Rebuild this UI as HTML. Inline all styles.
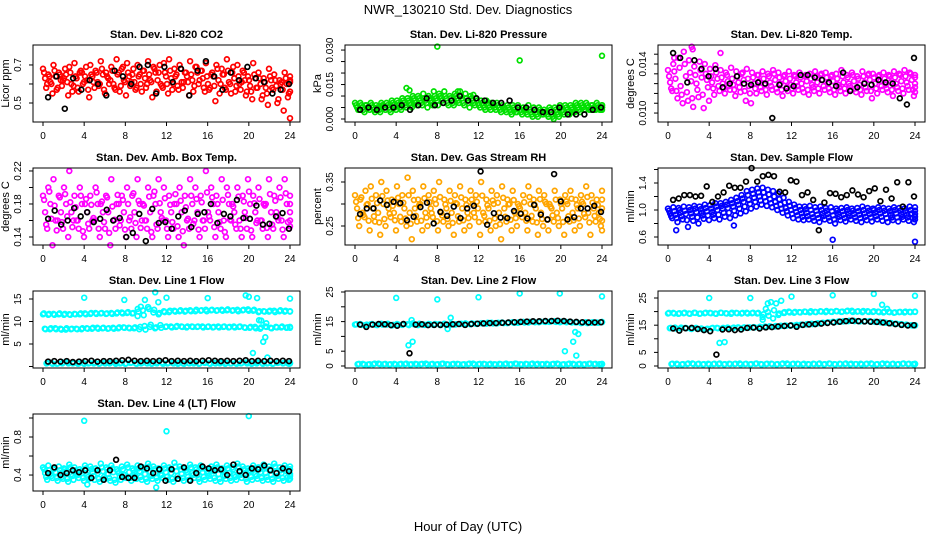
<!DOCTYPE html>
<html><head><meta charset="utf-8"><title>NWR_130210 Std. Dev. Diagnostics</title>
<style>
html,body{margin:0;padding:0;background:#fff;}
svg{display:block;font-family:"Liberation Sans",sans-serif;}
</style></head>
<body>
<svg id="chart" width="936" height="540" viewBox="0 0 936 540" xmlns="http://www.w3.org/2000/svg">
<rect width="936" height="540" fill="#fff"/>
<text x="468" y="14" font-size="13" text-anchor="middle">NWR_130210  Std. Dev. Diagnostics</text>
<text x="468" y="531" font-size="13" text-anchor="middle">Hour of Day (UTC)</text>
</svg>
<script>
const xTicks=[0,4,8,12,16,20,24];
const co2A=[0.68,0.65,0.70,0.66,0.63,0.69,0.71,0.66,0.64,0.70,0.67,0.72,0.66,0.69,0.73,0.68,0.71,0.65,0.70,0.67,0.72,0.69,0.66,0.71,0.73,0.68,0.70,0.66,0.72,0.69,0.67,0.71,0.65,0.70,0.68,0.73,0.66,0.70,0.67,0.64,0.71,0.66,0.63,0.68,0.65,0.62,0.66,0.64];
const co2B=[0.60,0.55,0.58,0.62,0.54,0.59,0.56,0.61,0.53,0.58,0.60,0.55,0.62,0.57,0.59,0.54,0.61,0.58,0.56,0.60,0.53,0.62,0.58,0.55,0.60,0.57,0.61,0.54,0.59,0.62,0.56,0.58,0.51,0.60,0.57,0.55,0.59,0.61,0.56,0.52,0.58,0.54,0.49,0.57,0.52,0.46,0.55,0.42];
const co2C=[0.63,0.61,0.64,0.62,0.65,0.60,0.63,0.66,0.62,0.64,0.61,0.65,0.63,0.60,0.66,0.62,0.64,0.61,0.65,0.63,0.62,0.66,0.60,0.64,0.63,0.65,0.61,0.64,0.62,0.66,0.63,0.60,0.64,0.62,0.65,0.61,0.63,0.60,0.62,0.59,0.63,0.60,0.58,0.62,0.59,0.61,0.60,0.62];
const co2D=[0.66,0.64,0.67,0.65,0.68,0.66,0.64,0.67,0.69,0.65,0.66,0.68,0.64,0.67,0.65,0.69,0.66,0.68,0.64,0.67,0.65,0.68,0.70,0.66,0.67,0.64,0.68,0.66,0.65,0.69,0.67,0.64,0.66,0.68,0.65,0.67,0.69,0.64,0.66,0.62,0.65,0.63,0.61,0.64,0.62,0.60,0.63,0.61];
const co2E=[0.58,0.60,0.57,0.59,0.61,0.56,0.58,0.60,0.57,0.61,0.59,0.57,0.60,0.58,0.56,0.61,0.59,0.57,0.60,0.58,0.61,0.56,0.59,0.60,0.57,0.59,0.58,0.61,0.56,0.60,0.58,0.57,0.59,0.55,0.58,0.60,0.56,0.57,0.54,0.56,0.58,0.52,0.55,0.58,0.50,0.57,0.53,0.56];
const co2K=[0.53,0.64,0.47,0.63,0.57,0.62,0.60,0.54,0.67,0.64,0.60,0.69,0.70,0.55,0.69,0.61,0.68,0.54,0.67,0.72,0.64,0.57,0.66,0.62,0.69,0.63,0.61,0.55,0.57,0.60];
const presA=[0.007,0.007,0.006,0.007,0.006,0.007,0.007,0.008,0.008,0.009,0.009,0.010,0.010,0.011,0.010,0.012,0.011,0.012,0.010,0.011,0.012,0.011,0.010,0.009,0.008,0.008,0.007,0.007,0.006,0.006,0.006,0.006,0.005,0.006,0.005,0.005,0.004,0.005,0.005,0.006,0.006,0.006,0.007,0.007,0.007,0.006,0.007,0.006];
const presB=[0.004,0.003,0.004,0.003,0.003,0.004,0.003,0.004,0.004,0.005,0.005,0.006,0.006,0.005,0.006,0.006,0.007,0.006,0.006,0.007,0.006,0.005,0.006,0.005,0.004,0.004,0.004,0.003,0.003,0.002,0.003,0.002,0.002,0.001,0.001,0.002,0.001,0.000,0.001,0.002,0.002,0.003,0.003,0.004,0.004,0.004,0.004,0.005];
const presC=[0.005,0.005,0.005,0.005,0.005,0.006,0.005,0.006,0.006,0.007,0.007,0.008,0.008,0.008,0.008,0.009,0.009,0.009,0.008,0.009,0.009,0.008,0.008,0.007,0.006,0.006,0.006,0.005,0.005,0.004,0.004,0.004,0.004,0.003,0.003,0.003,0.003,0.002,0.003,0.004,0.004,0.004,0.005,0.005,0.005,0.005,0.005,0.005];
const presD=[0.006,0.006,0.006,0.006,0.005,0.006,0.006,0.007,0.007,0.008,0.008,0.009,0.009,0.009,0.009,0.010,0.010,0.010,0.009,0.010,0.010,0.009,0.009,0.008,0.007,0.007,0.006,0.006,0.005,0.005,0.005,0.005,0.004,0.004,0.004,0.004,0.003,0.004,0.004,0.005,0.005,0.005,0.006,0.006,0.006,0.006,0.006,0.006];
const presE=[0.004,0.004,0.005,0.004,0.004,0.005,0.004,0.005,0.005,0.006,0.006,0.007,0.007,0.007,0.007,0.008,0.008,0.007,0.007,0.008,0.007,0.007,0.007,0.006,0.005,0.005,0.005,0.004,0.004,0.003,0.003,0.003,0.003,0.002,0.002,0.002,0.002,0.001,0.002,0.003,0.003,0.003,0.004,0.004,0.004,0.004,0.004,0.004];
const presK=[0.004,0.005,0.004,0.005,0.005,0.006,0.004,0.006,0.009,0.006,0.007,0.008,0.010,0.008,0.009,0.008,0.007,0.007,0.008,0.005,0.005,0.004,0.003,0.003,0.005,0.002,0.002,0.002,0.004,0.005];
const presOutT=[8,16,24,5,5.3,10,11.5];
const presOutV=[0.0315,0.0255,0.0275,0.0135,0.0125,0.012,0.0105];
const tempA=[0.0135,0.0140,0.0145,0.0150,0.0143,0.0138,0.0142,0.0140,0.0136,0.0139,0.0135,0.0133,0.0137,0.0134,0.0132,0.0136,0.0133,0.0131,0.0134,0.0132,0.0135,0.0133,0.0130,0.0134,0.0131,0.0133,0.0130,0.0132,0.0134,0.0131,0.0133,0.0130,0.0132,0.0135,0.0131,0.0133,0.0130,0.0134,0.0131,0.0132,0.0130,0.0133,0.0131,0.0134,0.0132,0.0135,0.0133,0.0131];
const tempB=[0.0118,0.0112,0.0108,0.0110,0.0105,0.0113,0.0104,0.0110,0.0115,0.0118,0.0116,0.0119,0.0114,0.0117,0.0110,0.0108,0.0116,0.0118,0.0115,0.0119,0.0117,0.0114,0.0118,0.0116,0.0119,0.0117,0.0115,0.0118,0.0116,0.0119,0.0117,0.0115,0.0118,0.0116,0.0119,0.0117,0.0115,0.0118,0.0112,0.0116,0.0119,0.0117,0.0114,0.0118,0.0116,0.0119,0.0114,0.0117];
const tempC=[0.0125,0.0128,0.0122,0.0130,0.0126,0.0124,0.0129,0.0127,0.0125,0.0128,0.0124,0.0126,0.0123,0.0125,0.0127,0.0122,0.0124,0.0126,0.0123,0.0125,0.0127,0.0124,0.0126,0.0123,0.0125,0.0124,0.0126,0.0123,0.0125,0.0127,0.0124,0.0126,0.0123,0.0125,0.0124,0.0126,0.0123,0.0125,0.0127,0.0124,0.0126,0.0123,0.0125,0.0124,0.0126,0.0125,0.0127,0.0124];
const tempD=[0.0130,0.0134,0.0137,0.0140,0.0133,0.0131,0.0135,0.0132,0.0130,0.0133,0.0129,0.0131,0.0128,0.0130,0.0133,0.0128,0.0129,0.0131,0.0128,0.0130,0.0132,0.0129,0.0131,0.0128,0.0130,0.0129,0.0131,0.0128,0.0130,0.0132,0.0129,0.0131,0.0128,0.0130,0.0129,0.0131,0.0128,0.0130,0.0132,0.0129,0.0131,0.0128,0.0130,0.0129,0.0131,0.0130,0.0132,0.0129];
const tempE=[0.0120,0.0118,0.0115,0.0117,0.0112,0.0119,0.0115,0.0121,0.0120,0.0122,0.0120,0.0122,0.0119,0.0121,0.0118,0.0116,0.0120,0.0121,0.0119,0.0122,0.0120,0.0119,0.0121,0.0120,0.0122,0.0120,0.0119,0.0121,0.0120,0.0122,0.0120,0.0119,0.0121,0.0120,0.0122,0.0120,0.0119,0.0121,0.0118,0.0120,0.0122,0.0120,0.0119,0.0121,0.0120,0.0122,0.0119,0.0121];
const tempK=[0.0149,0.0145,0.0125,0.0143,0.0136,0.0130,0.0136,0.0121,0.0124,0.0130,0.0124,0.0123,0.0125,0.0124,0.0096,0.0123,0.0120,0.0122,0.0131,0.0131,0.0129,0.0127,0.0125,0.0122,0.0133,0.0118,0.0121,0.0124,0.0123,0.0127,0.0125,0.0124,0.0112,0.0107,0.0145];
const tempOutT=[2.3,2.4,5.1,0.6];
const tempOutV=[0.0154,0.0152,0.0149,0.0145];
const ambA=[0.19,0.20,0.21,0.19,0.20,0.22,0.19,0.20,0.18,0.19,0.20,0.18,0.19,0.21,0.18,0.19,0.20,0.19,0.21,0.18,0.20,0.19,0.21,0.20,0.19,0.18,0.20,0.19,0.21,0.20,0.19,0.22,0.20,0.19,0.21,0.20,0.18,0.20,0.19,0.21,0.19,0.20,0.18,0.21,0.19,0.20,0.21,0.19];
const ambB=[0.15,0.13,0.16,0.15,0.14,0.16,0.15,0.14,0.15,0.16,0.14,0.15,0.13,0.15,0.16,0.14,0.15,0.14,0.16,0.15,0.14,0.15,0.16,0.14,0.15,0.14,0.13,0.15,0.16,0.14,0.15,0.16,0.14,0.15,0.14,0.16,0.15,0.14,0.15,0.14,0.16,0.15,0.14,0.15,0.16,0.14,0.15,0.16];
const ambC=[0.17,0.18,0.16,0.17,0.18,0.17,0.16,0.18,0.17,0.16,0.18,0.17,0.17,0.16,0.18,0.17,0.16,0.17,0.18,0.16,0.17,0.18,0.17,0.16,0.17,0.18,0.17,0.16,0.18,0.17,0.16,0.17,0.18,0.17,0.16,0.18,0.17,0.16,0.17,0.18,0.17,0.16,0.18,0.17,0.17,0.16,0.18,0.17];
const ambD=[0.185,0.195,0.178,0.188,0.192,0.182,0.176,0.190,0.186,0.179,0.194,0.183,0.188,0.177,0.191,0.185,0.180,0.193,0.184,0.178,0.189,0.195,0.181,0.187,0.179,0.192,0.184,0.176,0.190,0.186,0.182,0.194,0.188,0.180,0.185,0.191,0.177,0.189,0.183,0.195,0.181,0.186,0.178,0.192,0.184,0.188,0.193,0.180];
const ambE=[0.155,0.162,0.148,0.158,0.165,0.152,0.160,0.147,0.156,0.163,0.150,0.158,0.145,0.161,0.154,0.149,0.164,0.157,0.151,0.160,0.146,0.155,0.163,0.150,0.158,0.153,0.147,0.162,0.156,0.149,0.160,0.165,0.152,0.158,0.146,0.161,0.155,0.150,0.163,0.148,0.157,0.160,0.151,0.155,0.164,0.149,0.158,0.153];
const ambK=[0.162,0.172,0.155,0.160,0.175,0.165,0.170,0.158,0.162,0.173,0.160,0.163,0.140,0.145,0.168,0.135,0.174,0.157,0.158,0.150,0.165,0.172,0.152,0.168,0.170,0.180,0.157,0.168,0.165,0.185,0.163,0.162,0.178,0.155,0.156,0.165,0.169,0.150];
const rhA=[0.32,0.31,0.33,0.34,0.32,0.35,0.33,0.31,0.34,0.32,0.36,0.33,0.31,0.34,0.32,0.33,0.35,0.31,0.33,0.32,0.34,0.31,0.33,0.32,0.35,0.31,0.33,0.32,0.34,0.31,0.33,0.30,0.32,0.34,0.31,0.33,0.32,0.30,0.33,0.31,0.32,0.33,0.31,0.32,0.34,0.32,0.31,0.33];
const rhB=[0.25,0.27,0.24,0.26,0.23,0.25,0.27,0.24,0.26,0.25,0.22,0.26,0.24,0.25,0.27,0.24,0.26,0.25,0.23,0.26,0.24,0.25,0.27,0.23,0.26,0.24,0.25,0.22,0.26,0.24,0.25,0.27,0.24,0.26,0.23,0.25,0.24,0.26,0.25,0.23,0.26,0.24,0.25,0.27,0.23,0.26,0.25,0.24];
const rhC=[0.29,0.28,0.30,0.29,0.28,0.30,0.29,0.28,0.30,0.29,0.28,0.29,0.30,0.28,0.29,0.30,0.28,0.29,0.28,0.30,0.29,0.28,0.30,0.29,0.28,0.29,0.30,0.28,0.29,0.30,0.28,0.29,0.28,0.30,0.29,0.28,0.30,0.29,0.28,0.29,0.30,0.28,0.29,0.30,0.28,0.29,0.28,0.29];
const rhD=[0.305,0.315,0.298,0.312,0.302,0.318,0.308,0.296,0.314,0.303,0.320,0.309,0.297,0.313,0.304,0.311,0.316,0.299,0.307,0.302,0.315,0.298,0.310,0.305,0.319,0.297,0.308,0.303,0.314,0.299,0.309,0.295,0.304,0.316,0.298,0.311,0.305,0.294,0.310,0.300,0.306,0.312,0.298,0.305,0.316,0.303,0.298,0.310];
const rhE=[0.268,0.275,0.262,0.272,0.258,0.266,0.278,0.263,0.271,0.267,0.255,0.273,0.262,0.269,0.279,0.261,0.274,0.266,0.257,0.272,0.263,0.268,0.280,0.259,0.273,0.262,0.267,0.254,0.271,0.264,0.268,0.278,0.262,0.273,0.258,0.266,0.264,0.274,0.268,0.259,0.272,0.263,0.267,0.278,0.258,0.273,0.266,0.262];
const rhK=[0.277,0.290,0.290,0.308,0.298,0.305,0.302,0.263,0.271,0.293,0.303,0.256,0.282,0.273,0.294,0.268,0.290,0.296,0.374,0.253,0.279,0.269,0.268,0.284,0.278,0.267,0.298,0.276,0.265,0.368,0.306,0.265,0.270,0.290,0.290,0.296,0.282];
const flowA=[1.02,1.04,1.03,1.05,1.04,1.06,1.05,1.08,1.07,1.10,1.10,1.12,1.15,1.18,1.22,1.28,1.30,1.32,1.33,1.30,1.28,1.24,1.18,1.12,1.08,1.05,1.05,1.06,1.04,1.05,1.03,1.04,1.02,1.03,1.04,1.02,1.03,1.05,1.03,1.02,1.04,1.03,1.02,1.04,1.03,1.02,1.05,1.04];
const flowB=[0.88,0.82,0.86,0.75,0.84,0.80,0.87,0.85,0.88,0.86,0.90,0.88,0.92,0.95,0.98,1.02,1.05,1.08,1.06,1.04,1.00,0.96,0.92,0.88,0.86,0.85,0.86,0.84,0.82,0.86,0.84,0.80,0.85,0.83,0.86,0.84,0.82,0.85,0.83,0.86,0.84,0.82,0.85,0.83,0.86,0.84,0.82,0.86];
const flowC=[0.95,0.93,0.96,0.94,0.95,0.97,0.96,0.98,0.97,1.00,1.02,1.03,1.05,1.08,1.12,1.15,1.18,1.20,1.19,1.16,1.12,1.08,1.03,1.00,0.97,0.95,0.96,0.94,0.93,0.95,0.94,0.92,0.94,0.93,0.95,0.94,0.93,0.95,0.94,0.96,0.95,0.94,0.93,0.95,0.94,0.93,0.95,0.94];
const flowD=[0.99,0.98,1.00,0.99,1.00,1.02,1.01,1.03,1.02,1.05,1.06,1.08,1.10,1.13,1.17,1.22,1.24,1.26,1.26,1.23,1.20,1.16,1.11,1.06,1.03,1.00,1.01,1.00,0.99,1.00,0.99,0.98,0.99,0.98,1.00,0.99,0.98,1.00,0.99,1.00,1.00,0.99,0.98,1.00,0.99,0.98,1.00,0.99];
const flowE=[0.91,0.88,0.91,0.85,0.90,0.89,0.92,0.92,0.93,0.93,0.96,0.96,0.99,1.02,1.05,1.09,1.12,1.14,1.13,1.10,1.06,1.02,0.98,0.94,0.92,0.90,0.91,0.89,0.88,0.91,0.89,0.86,0.90,0.88,0.91,0.89,0.88,0.90,0.89,0.91,0.90,0.88,0.89,0.89,0.90,0.89,0.88,0.90];
const flowK=[1.15,1.17,1.22,1.22,1.20,1.21,1.35,1.12,1.20,1.26,1.36,1.33,1.33,1.42,1.62,1.42,1.50,1.52,1.50,1.27,1.26,1.44,1.42,1.22,1.26,1.15,0.70,1.11,1.25,1.24,1.19,1.22,1.29,1.23,1.19,1.28,1.32,1.13,1.30,1.17,1.41,1.05,1.41,1.20];
const flowOutT=[16,24,0.8,6.4];
const flowOutV=[0.56,0.53,0.70,0.77];
const l1A=[11.6,11.5,11.7,11.6,11.5,11.6,11.7,11.6,11.8,11.7,11.9,11.8,11.7,11.9,11.8,12.0,11.9,11.8,11.2,12.5,13.2,12.0,11.6,12.3,12.1,12.4,12.3,12.2,12.5,12.3,12.4,12.6,12.5,12.4,12.6,12.5,12.4,12.6,12.5,12.7,12.4,12.1,12.3,12.2,12.4,12.3,12.2,12.3];
const l1A2=[11.8,11.7,11.5,11.8,11.7,11.5,11.6,11.8,11.6,11.9,11.7,11.9,11.8,11.7,12.0,11.8,12.1,11.9,12.2,11.4,12.8,12.6,11.9,12.1,12.4,12.2,12.5,12.4,12.3,12.6,12.5,12.3,12.6,12.5,12.4,12.7,12.5,12.3,12.6,12.4,12.6,12.3,12.2,12.4,12.1,12.5,12.4,12.2];
const l1B=[8.4,8.3,8.5,8.4,8.2,8.3,8.4,8.3,8.5,8.4,8.6,8.5,8.4,8.6,8.5,8.7,8.6,8.5,8.3,9.0,8.8,8.5,9.2,8.8,8.9,8.8,8.9,8.7,8.9,8.8,8.9,8.8,8.7,8.9,8.8,8.7,8.9,8.8,8.7,8.6,8.8,8.4,8.9,8.6,8.8,8.7,8.6,8.8];
const l1B2=[8.3,8.5,8.3,8.2,8.5,8.4,8.3,8.5,8.4,8.6,8.4,8.6,8.5,8.4,8.7,8.6,8.5,8.7,8.8,8.2,9.3,8.7,8.6,8.9,8.7,9.0,8.8,8.9,8.8,8.9,8.7,8.9,8.8,8.7,8.9,8.8,8.7,8.9,8.6,8.8,8.5,8.7,8.8,8.5,8.7,8.9,8.7,8.6];
const l1C=[0.7,0.8,0.6,0.7,0.9,0.7,0.6,0.8,0.7,0.7,0.6,0.8,0.7,0.9,0.7,0.6,0.8,0.7,0.7,0.8,0.6,0.7,0.9,0.7,0.8,0.6,0.7,0.8,0.7,0.6,0.9,0.7,0.8,0.7,0.6,0.7,0.8,0.7,0.9,0.6,0.7,0.8,0.7,0.6,0.8,0.7,0.7,0.8];
const l1C2=[0.8,0.6,0.7,0.9,0.7,0.8,0.7,0.6,0.8,0.9,0.7,0.7,0.8,0.6,0.8,0.7,0.9,0.6,0.8,0.7,0.7,0.9,0.6,0.8,0.7,0.8,0.6,0.7,0.9,0.7,0.8,0.6,0.7,0.9,0.8,0.7,0.6,0.8,0.7,0.7,0.9,0.6,0.8,0.7,0.9,0.8,0.6,0.7];
const l1K=[1.1,1.2,1.1,1.2,1.0,1.1,1.2,1.3,1.1,1.2,1.2,1.3,1.4,1.5,1.3,1.2,1.3,1.2,1.3,1.4,1.2,1.3,1.2,1.3,1.2,1.3,1.4,1.3,1.2,1.3,1.2,1.3,1.4,1.2,1.3,1.2,1.3,1.2,1.3,1.2];
const l1OutT=[4,7.9,9.9,10.9,11.2,12,16,19.7,20,20.4,20.8,21,21.2,21.4,21.6,21.7,21.8,24,9.5,9.2];
const l1OutV=[15.3,14.8,14.8,16.5,14.3,15.3,15.2,15.8,15.5,3.0,15.2,10.3,10.2,5.5,6.5,9.6,2.0,15.1,13.3,12.8];
const l2A=[14.0,14.2,13.8,14.1,13.9,14.3,14.0,13.7,14.2,13.9,14.1,14.4,13.8,14.0,14.2,13.9,14.1,14.3,13.8,14.0,14.2,14.4,14.1,14.3,14.5,14.3,14.6,14.4,14.7,14.5,14.8,14.6,14.9,14.7,15.0,14.8,15.0,14.9,15.1,14.8,15.0,14.9,14.7,14.5,14.8,14.6,14.7,14.9];
const l2A2=[14.1,13.9,14.0,14.2,13.8,14.0,14.3,13.9,14.0,14.2,13.8,14.1,14.3,13.9,14.1,14.2,13.8,14.0,14.2,14.1,14.3,14.2,14.4,14.2,14.4,14.6,14.4,14.6,14.5,14.7,14.6,14.8,14.7,14.9,14.8,15.0,14.9,15.1,14.9,15.0,14.8,14.7,14.8,14.6,14.5,14.8,14.6,14.8];
const l2C=[0.6,0.7,0.5,0.6,0.8,0.6,0.5,0.7,0.6,0.6,0.5,0.7,0.6,0.8,0.6,0.5,0.7,0.6,0.6,0.7,0.5,0.6,0.8,0.6,0.7,0.5,0.6,0.7,0.6,0.5,0.8,0.6,0.7,0.6,0.5,0.6,0.7,0.6,0.8,0.5,0.6,0.7,0.6,0.5,0.7,0.6,0.6,0.7];
const l2C2=[0.7,0.5,0.6,0.8,0.6,0.7,0.6,0.5,0.7,0.8,0.6,0.6,0.7,0.5,0.7,0.6,0.8,0.5,0.7,0.6,0.6,0.8,0.5,0.7,0.6,0.7,0.5,0.6,0.8,0.6,0.7,0.5,0.6,0.8,0.7,0.6,0.5,0.7,0.6,0.6,0.8,0.5,0.7,0.6,0.8,0.7,0.5,0.6];
const l2K=[14.0,13.2,14.0,14.2,14.1,13.8,13.6,14.2,4.3,14.0,14.1,13.8,13.9,13.9,14.0,14.1,14.2,13.9,14.2,14.3,14.4,14.5,14.5,14.6,14.7,14.8,14.9,15.0,15.1,15.1,15.2,15.2,15.3,15.2,15.0,14.9,14.8,14.7,14.7,14.8];
const l2OutT=[4,5.2,5.5,5.6,8,9,9.3,12,16,19.9,20.4,21.2,21.4,21.5,21.7,24];
const l2OutV=[23,7,15.5,8.2,22.5,12.5,16.3,23.2,24.5,24.5,5,8.2,11.5,3.5,10.8,23.5];
const l3A=[19.3,19.5,19.2,19.4,19.3,19.6,19.2,19.4,19.5,19.3,19.6,19.4,19.2,19.5,19.3,19.6,19.4,19.3,18.0,19.8,17.5,18.8,19.5,20.0,19.6,19.8,20.0,19.7,19.9,20.1,19.8,20.0,20.2,19.9,20.1,20.3,20.0,19.8,20.1,19.9,20.0,19.7,19.9,19.6,19.8,19.7,19.9,20.0];
const l3A2=[19.5,19.3,19.4,19.6,19.2,19.5,19.3,19.6,19.4,19.2,19.5,19.3,19.6,19.4,19.5,19.3,19.6,19.5,19.0,18.5,20.5,19.3,19.8,19.7,19.9,19.7,19.9,20.1,19.8,20.0,20.2,19.9,20.1,20.0,20.3,19.9,20.1,20.2,19.9,20.1,19.8,20.0,19.8,19.7,19.9,20.0,19.8,19.9];
const l3B=[13.9,14.1,13.8,14.0,13.7,14.0,13.8,13.5,13.9,14.0,13.8,14.1,13.9,14.2,14.0,14.1,14.3,14.2,14.4,14.6,14.5,14.7,14.9,14.8,15.0,15.2,15.3,15.5,15.6,15.8,16.0,16.2,16.3,16.4,16.5,16.6,16.5,16.4,16.5,16.3,16.2,16.0,15.8,15.6,15.4,15.2,15.0,14.9];
const l3B2=[14.0,13.8,14.1,13.9,13.6,13.8,13.6,13.7,14.0,13.9,14.0,13.9,14.1,14.0,14.2,14.2,14.2,14.4,14.5,14.5,14.7,14.8,14.8,15.0,15.1,15.1,15.4,15.4,15.7,15.9,16.1,16.2,16.4,16.5,16.6,16.5,16.4,16.5,16.3,16.2,16.1,15.9,15.7,15.5,15.3,15.1,14.9,15.0];
const l3C=[0.7,0.8,0.6,0.7,0.9,0.7,0.6,0.8,0.7,0.7,0.6,0.8,0.7,0.9,0.7,0.6,0.8,0.7,0.7,0.8,0.6,0.7,0.9,0.7,0.8,0.6,0.7,0.8,0.7,0.6,0.9,0.7,0.8,0.7,0.6,0.7,0.8,0.7,0.9,0.6,0.7,0.8,0.7,0.6,0.8,0.7,0.7,0.8];
const l3C2=[0.8,0.6,0.7,0.9,0.7,0.8,0.7,0.6,0.8,0.9,0.7,0.7,0.8,0.6,0.8,0.7,0.9,0.6,0.8,0.7,0.7,0.9,0.6,0.8,0.7,0.8,0.6,0.7,0.9,0.7,0.8,0.6,0.7,0.9,0.8,0.7,0.6,0.8,0.7,0.7,0.9,0.6,0.8,0.7,0.9,0.8,0.6,0.7];
const l3K=[13.8,13.0,13.9,14.0,13.6,13.2,12.8,4.2,13.4,13.5,13.2,13.4,14.0,14.1,13.8,14.2,14.3,14.5,14.7,14.9,14.4,15.1,15.3,15.4,15.6,15.8,16.0,16.3,16.5,16.6,16.5,16.4,16.3,16.2,16.0,15.7,15.4,15.1,14.9,15.0];
const l3OutT=[4,5,5.5,8,9.2,9.5,9.7,10,10.5,11,11.3,12,16,20,20.8,21.3,24];
const l3OutV=[25,8.5,8.8,25,17,21,23,23.5,23,24,19.5,25.5,26,26.5,22.5,21,25.8];
const l4A=[0.48,0.50,0.46,0.49,0.47,0.51,0.48,0.46,0.50,0.49,0.47,0.52,0.48,0.50,0.46,0.49,0.51,0.47,0.50,0.48,0.52,0.49,0.47,0.50,0.48,0.53,0.49,0.47,0.51,0.48,0.50,0.46,0.49,0.51,0.47,0.50,0.48,0.52,0.49,0.47,0.50,0.48,0.51,0.49,0.52,0.48,0.50,0.49];
const l4B=[0.35,0.37,0.34,0.36,0.33,0.35,0.37,0.34,0.36,0.35,0.33,0.36,0.34,0.32,0.35,0.37,0.34,0.36,0.35,0.33,0.36,0.34,0.37,0.35,0.33,0.36,0.34,0.35,0.37,0.33,0.35,0.36,0.34,0.33,0.36,0.34,0.35,0.37,0.33,0.35,0.36,0.34,0.35,0.33,0.36,0.34,0.35,0.36];
const l4C=[0.42,0.41,0.43,0.42,0.44,0.41,0.43,0.42,0.40,0.43,0.42,0.44,0.41,0.43,0.42,0.40,0.43,0.42,0.44,0.41,0.43,0.42,0.40,0.43,0.42,0.44,0.41,0.43,0.42,0.40,0.43,0.42,0.44,0.41,0.43,0.42,0.40,0.43,0.42,0.44,0.41,0.43,0.42,0.40,0.43,0.42,0.44,0.41];
const l4D=[0.46,0.45,0.47,0.45,0.46,0.48,0.45,0.44,0.47,0.46,0.45,0.48,0.46,0.47,0.44,0.46,0.48,0.45,0.47,0.46,0.49,0.46,0.45,0.47,0.46,0.49,0.46,0.45,0.48,0.46,0.47,0.44,0.46,0.48,0.45,0.47,0.46,0.49,0.46,0.45,0.47,0.46,0.48,0.46,0.49,0.45,0.47,0.46];
const l4E=[0.38,0.39,0.37,0.38,0.36,0.39,0.40,0.37,0.38,0.39,0.36,0.38,0.37,0.35,0.38,0.40,0.37,0.39,0.38,0.36,0.39,0.37,0.40,0.38,0.36,0.39,0.37,0.38,0.40,0.36,0.38,0.39,0.37,0.36,0.39,0.37,0.38,0.40,0.36,0.38,0.39,0.37,0.38,0.36,0.39,0.37,0.38,0.39];
const l4K=[0.42,0.48,0.40,0.42,0.45,0.43,0.45,0.37,0.45,0.35,0.45,0.56,0.38,0.37,0.37,0.49,0.47,0.42,0.46,0.34,0.46,0.36,0.48,0.34,0.42,0.49,0.47,0.45,0.46,0.40,0.51,0.44,0.40,0.47,0.46,0.50,0.45,0.42,0.47,0.44];
const l4OutT=[4,12,20,11,4.3];
const l4OutV=[0.97,0.86,1.02,0.27,0.30];

const panels=[
 {name:'co2',col:0,row:0,title:'Stan. Dev. Li-820 CO2',ylab:'Licor ppm',lo:0.40,hi:0.805,ticks:[0.5,0.6,0.7],labels:['0.5','','0.7'],color:'#ff0000',series:[co2A,co2D,co2C,co2E,co2B],blk:co2K,outT:[],outV:[]},
 {name:'pressure',col:1,row:0,title:'Stan. Dev. Li-820 Pressure',ylab:'kPa',lo:-0.0013,hi:0.0322,ticks:[0,0.005,0.010,0.015,0.020,0.025,0.030],labels:['0.000','','','0.015','','','0.030'],color:'#00e000',series:[presA,presD,presC,presE,presB],blk:presK,outT:presOutT,outV:presOutV},
 {name:'li820-temp',col:2,row:0,title:'Stan. Dev. Li-820 Temp.',ylab:'degrees C',lo:0.00927,hi:0.01555,ticks:[0.0100,0.0108,0.0116,0.0124,0.0132,0.0140,0.0148],labels:['0.010','','','','','0.014',''],color:'#ff00ff',series:[tempA,tempD,tempC,tempE,tempB],blk:tempK,outT:tempOutT,outV:tempOutV},
 {name:'amb-box-temp',col:0,row:1,title:'Stan. Dev. Amb. Box Temp.',ylab:'degrees C',lo:0.1303,hi:0.2236,ticks:[0.14,0.16,0.18,0.20,0.22],labels:['0.14','','0.18','','0.22'],color:'#ff00ff',series:[ambA,ambD,ambC,ambE,ambB],blk:ambK,outT:[],outV:[]},
 {name:'gas-stream-rh',col:1,row:1,title:'Stan. Dev. Gas Stream RH',ylab:'percent',lo:0.2068,hi:0.3818,ticks:[0.25,0.30,0.35],labels:['0.25','','0.35'],color:'#ffa500',series:[rhA,rhD,rhC,rhE,rhB],blk:rhK,outT:[],outV:[]},
 {name:'sample-flow',col:2,row:1,title:'Stan. Dev. Sample Flow',ylab:'ml/min',lo:0.4815,hi:1.622,ticks:[0.6,0.8,1.0,1.2,1.4,1.6],labels:['0.6','','1.0','','1.4',''],color:'#0000ff',series:[flowA,flowD,flowC,flowE,flowB],blk:flowK,outT:flowOutT,outV:flowOutV},
 {name:'line1-flow',col:0,row:2,title:'Stan. Dev. Line 1 Flow',ylab:'ml/min',lo:-0.33,hi:16.78,ticks:[0,5,10,15],labels:['','5','10','15'],color:'#00ffff',series:[l1A,l1A2,l1B,l1B2,l1C,l1C2],blk:l1K,outT:l1OutT,outV:l1OutV},
 {name:'line2-flow',col:1,row:2,title:'Stan. Dev. Line 2 Flow',ylab:'ml/min',lo:-0.68,hi:25.34,ticks:[0,5,10,15,20,25],labels:['0','5','','15','','25'],color:'#00ffff',series:[l2A,l2A2,l2C,l2C2],blk:l2K,outT:l2OutT,outV:l2OutV},
 {name:'line3-flow',col:2,row:2,title:'Stan. Dev. Line 3 Flow',ylab:'ml/min',lo:-0.74,hi:27.57,ticks:[0,5,10,15,20,25],labels:['0','5','','15','','25'],color:'#00ffff',series:[l3A,l3A2,l3B,l3B2,l3C,l3C2],blk:l3K,outT:l3OutT,outV:l3OutV},
 {name:'line4-flow',col:0,row:3,title:'Stan. Dev. Line 4 (LT) Flow',ylab:'ml/min',lo:0.232,hi:1.042,ticks:[0.4,0.6,0.8,1.0],labels:['0.4','','0.8',''],color:'#00ffff',series:[l4A,l4D,l4C,l4E,l4B],blk:l4K,outT:l4OutT,outV:l4OutV}
];

const NS='http://www.w3.org/2000/svg';
const svg=document.getElementById('chart');
const colLeft=[33,345,658], rowTop=[45,168,291,414], W=267, H=77;
function mk(tag,attrs,parent){const e=document.createElementNS(NS,tag);for(const k in attrs)e.setAttribute(k,attrs[k]);parent.appendChild(e);return e;}
function dot(g,x,y,c){
  const e=mk('circle',{cx:x.toFixed(1),cy:y.toFixed(1),r:2.4,fill:'none',stroke:c,'stroke-width':1.7},g);
  
  
}
panels.forEach(p=>{
  const L=colLeft[p.col],T=rowTop[p.row],B=T+H,R=L+W;
  const xs=t=>L+10+t*(W-20)/24;
  const ys=v=>B-(v-p.lo)/(p.hi-p.lo)*H;
  const g=mk('g',{},svg);
  
  
  const t=mk('text',{x:(L+R)/2,y:T-7,'font-size':11,'font-weight':'bold','text-anchor':'middle'},g);
  t.textContent=p.title;
  
  
  const yl=mk('text',{x:0,y:0,'font-size':11,'text-anchor':'middle',transform:`translate(${L-24},${(T+B)/2}) rotate(-90)`},g);
  yl.textContent=p.ylab;
  
  
  const pg=mk('g',{},g);
  
  
  const ns=p.series.length;
  p.series.forEach((s,k)=>{
    const n=s.length, step=24/(n-1);
    s.forEach((v,i)=>{let tt=i*step+k*step/ns; if(tt>24)tt=24; dot(pg,xs(tt),ys(v),p.color);});
  });
  p.outV.forEach((v,i)=>dot(pg,xs(p.outT[i]),ys(v),p.color));
  const bg=mk('g',{},g);
  
  
  const nb=p.blk.length;
  p.blk.forEach((v,i)=>dot(bg,xs(0.5+i*23.4/(nb-1)),ys(v),'#000'));
  const bx=mk('rect',{x:L,y:T,width:W,height:H,fill:'none',stroke:'#000','stroke-width':1},g);
  
  
  const xa=mk('g',{},g);
  
  
  xTicks.forEach(v=>{
    mk('line',{x1:xs(v),x2:xs(v),y1:B,y2:B+4,stroke:'#000'},xa);
    const tl=mk('text',{x:xs(v),y:B+17,'font-size':10,'text-anchor':'middle'},xa);
    tl.textContent=String(v);
    
    
  });
  const ya=mk('g',{},g);
  
  
  p.ticks.forEach((v,i)=>{
    const y=ys(v);
    mk('line',{x1:L-4,x2:L,y1:y,y2:y,stroke:'#000'},ya);
    if(p.labels[i]){
      const tl=mk('text',{x:0,y:0,'font-size':10,'text-anchor':'middle',transform:`translate(${L-12},${y}) rotate(-90)`},ya);
      tl.textContent=p.labels[i];
      
      
    }
  });
});
</script>
</body></html>
